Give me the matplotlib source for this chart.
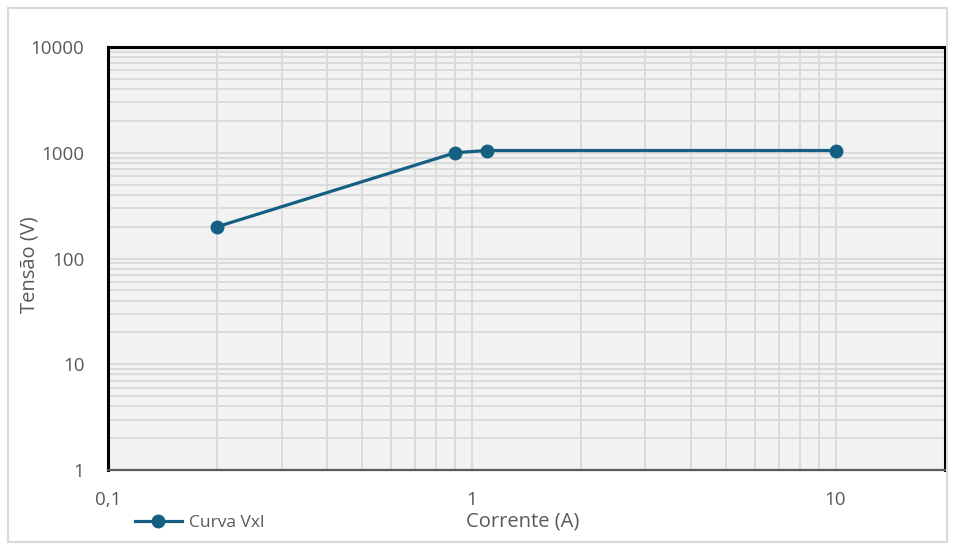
import matplotlib
matplotlib.use("Agg")
import matplotlib.pyplot as plt
from matplotlib.ticker import LogLocator, FixedLocator, NullFormatter, FixedFormatter
from matplotlib.patches import Rectangle

# Curva de excitação V x I
corrente = [0.2, 0.9, 1.1, 10]
tensao = [200, 1000, 1050, 1050]

x_ticks = [0.1, 1, 10]
x_labels = ["0,1", "1", "10"]
y_ticks = [1, 10, 100, 1000, 10000]
y_labels = ["1", "10", "100", "1000", "10000"]

plt.rcParams["font.family"] = ["Open Sans", "DejaVu Sans"]

W, H = 959, 550
fig = plt.figure(figsize=(W / 100, H / 100), dpi=100)
fig.patch.set_facecolor("white")

# moldura externa do gráfico
fig.add_artist(Rectangle((8 / W, 8 / H), (W - 12) / W - 8 / W, (H - 8) / H - 8 / H,
                         transform=fig.transFigure, fill=False,
                         edgecolor="#d9d9d9", linewidth=1.5))

left, right, top, bottom = 108, 945, 47, 470
ax = fig.add_axes([left / W, 1 - bottom / H, (right - left) / W, (bottom - top) / H])
ax.set_facecolor("#f2f2f2")

ax.set_xscale("log")
ax.set_yscale("log")
ax.set_xlim(0.1, 20)
ax.set_ylim(1, 10000)

ax.xaxis.set_major_locator(FixedLocator(x_ticks))
ax.xaxis.set_major_formatter(FixedFormatter(x_labels))
ax.yaxis.set_major_locator(FixedLocator(y_ticks))
ax.yaxis.set_major_formatter(FixedFormatter(y_labels))
for axis in (ax.xaxis, ax.yaxis):
    axis.set_minor_locator(LogLocator(base=10, subs=range(2, 10), numticks=20))
    axis.set_minor_formatter(NullFormatter())

ax.grid(which="both", color="#d9d9d9", linewidth=1.3)
ax.set_axisbelow(True)
ax.tick_params(which="both", length=0)
ax.tick_params(axis="both", labelsize=13.5, labelcolor="#595959")
ax.tick_params(axis="x", pad=15)
ax.tick_params(axis="y", pad=17)

for side in ("top", "left", "right"):
    ax.spines[side].set_color("black")
    ax.spines[side].set_linewidth(2.2)
ax.spines["bottom"].set_color("#595959")
ax.spines["bottom"].set_linewidth(1.6)

line, = ax.plot(corrente, tensao, color="#156082", linewidth=2.3,
                marker="o", markersize=9, label="Curva Vxl", zorder=5,
                clip_on=False)

ax.set_xlabel("Corrente (A)", fontsize=14.5, color="#595959")
ax.xaxis.set_label_coords((523 - left) / (right - left), -(522 - bottom) / (bottom - top))
ax.xaxis.label.set_verticalalignment("center")
ax.set_ylabel("Tensão (V)", fontsize=14.5, color="#595959")
ax.yaxis.set_label_coords(-(left - 30) / (right - left), (bottom - 265) / (bottom - top))
ax.yaxis.label.set_verticalalignment("center")

fig.legend(handles=[line], loc="center left",
           bbox_to_anchor=(135 / W, 1 - 523 / H), frameon=False,
           fontsize=12.5, labelcolor="#595959", handlelength=2.7,
           handletextpad=0.4, borderaxespad=0, borderpad=0)

fig.savefig("out.png", dpi=100)
